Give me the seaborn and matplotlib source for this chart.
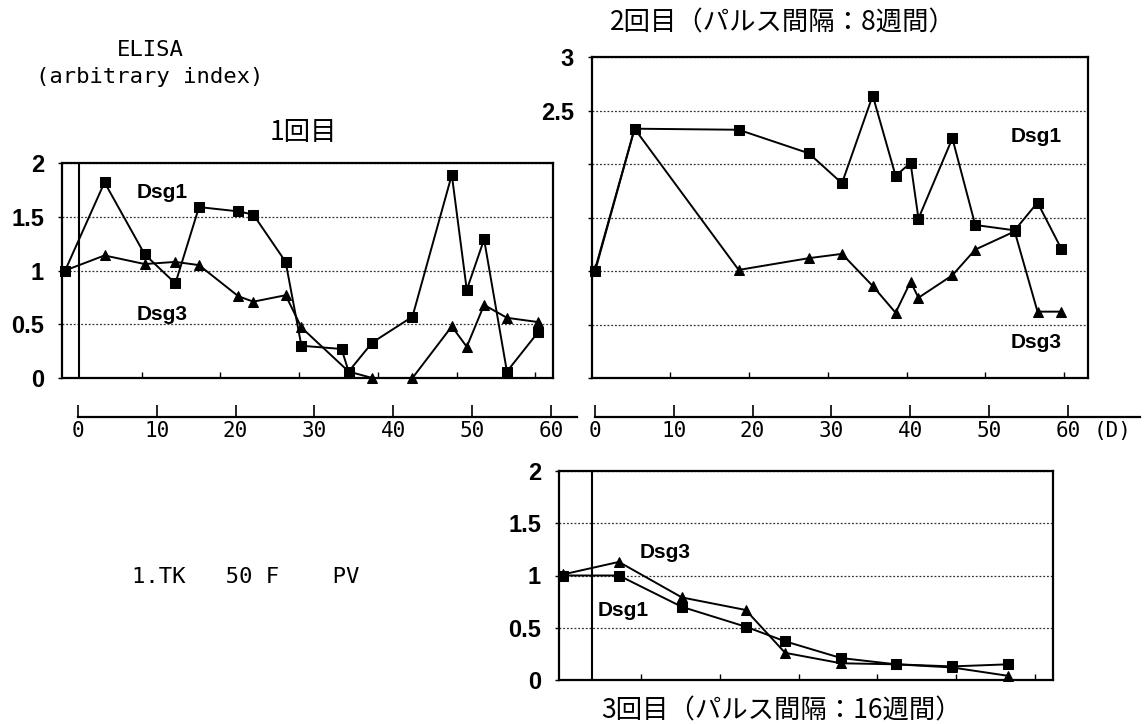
import matplotlib
matplotlib.use("Agg")
import matplotlib.pyplot as plt
import seaborn as sns
import pandas as pd

# ---------------- data ----------------
# Panel 1 (1回目)
p1_dsg1_day = [-1.7, 3.3, 8.4, 12.3, 15.3, 20.3, 22.2, 26.3, 28.3, 33.4, 34.3, 37.3, 42.4, 47.4, 49.3, 51.5, 54.4, 58.4]
p1_dsg1_val = [1.0, 1.82, 1.15, 0.88, 1.59, 1.55, 1.52, 1.08, 0.30, 0.27, 0.06, 0.33, 0.57, 1.89, 0.82, 1.29, 0.06, 0.43]
p1_dsg3_day = [-1.7, 3.3, 8.4, 12.3, 15.3, 20.3, 22.2, 26.3, 28.3, 34.3, 37.3, 42.4, 47.4, 49.3, 51.5, 54.4, 58.4]
p1_dsg3_val = [1.0, 1.14, 1.06, 1.08, 1.05, 0.76, 0.71, 0.77, 0.47, 0.06, 0.0, 0.0, 0.48, 0.29, 0.68, 0.56, 0.52]

# Panel 2 (2回目)
p2_day = [0, 5.0, 18.2, 27.1, 31.3, 35.2, 38.1, 40.0, 41.0, 45.3, 48.2, 53.2, 56.1, 59.1]
p2_dsg1_val = [1.0, 2.33, 2.32, 2.10, 1.82, 2.64, 1.89, 2.01, 1.49, 2.24, 1.43, 1.38, 1.64, 1.21]
p2_dsg3_val = [1.02, 2.33, 1.01, 1.12, 1.16, 0.86, 0.61, 0.90, 0.75, 0.96, 1.20, 1.37, 0.62, 0.62]

# Panel 3 (3回目)
p3_day = [-3.7, 3.4, 11.4, 19.5, 24.5, 31.6, 38.6, 45.7, 52.8]
p3_dsg1_val = [1.0, 1.0, 0.70, 0.51, 0.37, 0.21, 0.15, 0.13, 0.15]
p3_dsg3_val = [1.01, 1.13, 0.79, 0.67, 0.26, 0.16, 0.15, 0.12, 0.04]

y_ticks_2 = [0, 0.5, 1, 1.5, 2]
y_labels_2 = ["0", "0.5", "1", "1.5", "2"]
y_ticks_3 = [0, 0.5, 1, 1.5, 2, 2.5, 3]
y_labels_3 = ["", "", "", "", "", "2.5", "3"]
day_ticks = [0, 10, 20, 30, 40, 50, 60]
day_labels = ["0", "10", "20", "30", "40", "50", "60"]

title1 = "1回目"
title2 = "2回目（パルス間隔：8週間）"
title3 = "3回目（パルス間隔：16週間）"

# ---------------- style ----------------
sns.set_theme(style="white")
plt.rcParams["font.family"] = ["Noto Sans CJK JP", "DejaVu Sans"]
plt.rcParams["text.color"] = "black"
plt.rcParams["xtick.color"] = "black"
plt.rcParams["ytick.color"] = "black"

W, H = 1144, 724
fig = plt.figure(figsize=(W / 100, H / 100), dpi=100)


def rect(l, t, r, b):
    return [l / W, 1 - b / H, (r - l) / W, (b - t) / H]


tick_font = dict(family="Liberation Sans", weight="bold", size=17)
lab_font = dict(family="Liberation Sans", weight="bold", size=15, color="black")
mono = "DejaVu Sans Mono"


def draw_panel(box, xlim, ylim, yt, yl, frame_ticks, series, inner_line):
    ax = fig.add_axes(rect(*box))
    for xs, ys, mk in series:
        df = pd.DataFrame({"day": xs, "val": ys})
        sns.lineplot(data=df, x="day", y="val", ax=ax, color="black",
                     marker=mk, markersize=6.5, markeredgecolor="black",
                     linewidth=1.4, estimator=None, sort=False, clip_on=False,
                     zorder=3)
    ax.set_xlim(*xlim)
    ax.set_ylim(*ylim)
    ax.set_yticks(yt)
    ax.set_yticklabels(yl, fontdict=tick_font)
    ax.set_xticks(frame_ticks)
    ax.set_xticklabels([])
    ax.tick_params(axis="x", bottom=True, direction="in", length=4, width=1, colors="black")
    ax.tick_params(axis="y", left=True, direction="out", length=3, width=1, pad=10, colors="black")
    ax.yaxis.grid(True, linestyle=(0, (1.5, 1.5)), color="#333333", linewidth=0.9)
    ax.xaxis.grid(False)
    ax.set_xlabel("")
    ax.set_ylabel("")
    for s in ax.spines.values():
        s.set_visible(True)
        s.set_color("black")
        s.set_linewidth(1.6)
    if inner_line:
        ax.axvline(0, color="black", linewidth=1.5, zorder=2)
    return ax


ax1 = draw_panel((62, 163, 553, 378), (-2.1, 60.25), (0, 2), y_ticks_2, y_labels_2,
                 [8, 18, 28, 38, 48, 58],
                 [(p1_dsg1_day, p1_dsg1_val, "s"), (p1_dsg3_day, p1_dsg3_val, "^")], True)
ax2 = draw_panel((592, 57, 1088, 378), (-0.4, 62.5), (0, 3), y_ticks_3, y_labels_3,
                 [9.5, 19.5, 29.5, 39.5, 49.5, 59.5],
                 [(p2_day, p2_dsg1_val, "s"), (p2_day, p2_dsg3_val, "^")], False)
ax3 = draw_panel((559, 471, 1053, 680), (-4.2, 58.5), (0, 2), y_ticks_2, y_labels_2,
                 [6.2, 16.2, 26.2, 36.2, 46.2, 56.2],
                 [(p3_day, p3_dsg1_val, "s"), (p3_day, p3_dsg3_val, "^")], True)


# separate day axes below panels 1 & 2
def day_axis(l, r, xmax):
    ax = fig.add_axes(rect(l, 397, r, 417))
    ax.set_facecolor("none")
    ax.set_xlim(0, xmax)
    ax.set_ylim(0, 1)
    ax.set_yticks([])
    ax.set_xticks(day_ticks)
    ax.set_xticklabels(day_labels, fontfamily=mono, fontsize=15)
    ax.tick_params(axis="x", bottom=True, direction="in", length=9, width=1.2, pad=3, colors="black")
    for k, s in ax.spines.items():
        s.set_visible(k == "bottom")
    ax.spines["bottom"].set_color("black")
    ax.spines["bottom"].set_linewidth(1.6)
    return ax


day_axis(78, 577, (577 - 78) / 7.88)
day_axis(595, 1140, (1140 - 595) / 7.88)
fig.text(1113 / W, 1 - 431 / H, "(D)", ha="center", va="center", fontfamily=mono, fontsize=15)

# series labels
fig.text(162 / W, 1 - 193 / H, "Dsg1", ha="center", va="center", **lab_font)
fig.text(162 / W, 1 - 315 / H, "Dsg3", ha="center", va="center", **lab_font)
fig.text(1036 / W, 1 - 137 / H, "Dsg1", ha="center", va="center", **lab_font)
fig.text(1036 / W, 1 - 343 / H, "Dsg3", ha="center", va="center", **lab_font)
fig.text(665 / W, 1 - 553 / H, "Dsg3", ha="center", va="center", **lab_font)
fig.text(623 / W, 1 - 610 / H, "Dsg1", ha="center", va="center", **lab_font)

# titles and annotations
fig.text(303 / W, 1 - 133 / H, title1, ha="center", va="center", fontsize=19,
         family=["Noto Sans CJK JP", "DejaVu Sans"])
fig.text(783 / W, 1 - 23 / H, title2, ha="center", va="center", fontsize=19,
         family=["Noto Sans CJK JP", "DejaVu Sans"])
fig.text(781 / W, 1 - 711 / H, title3, ha="center", va="center", fontsize=19,
         family=["Noto Sans CJK JP", "DejaVu Sans"])
fig.text(150 / W, 1 - 50 / H, "ELISA", ha="center", va="center", fontfamily=mono, fontsize=16)
fig.text(150 / W, 1 - 77 / H, "(arbitrary index)", ha="center", va="center", fontfamily=mono, fontsize=16)
fig.text(132 / W, 1 - 577 / H, "1.TK   50 F    PV", ha="left", va="center", fontfamily=mono, fontsize=16)

fig.savefig("out.png", dpi=100, facecolor="white")
